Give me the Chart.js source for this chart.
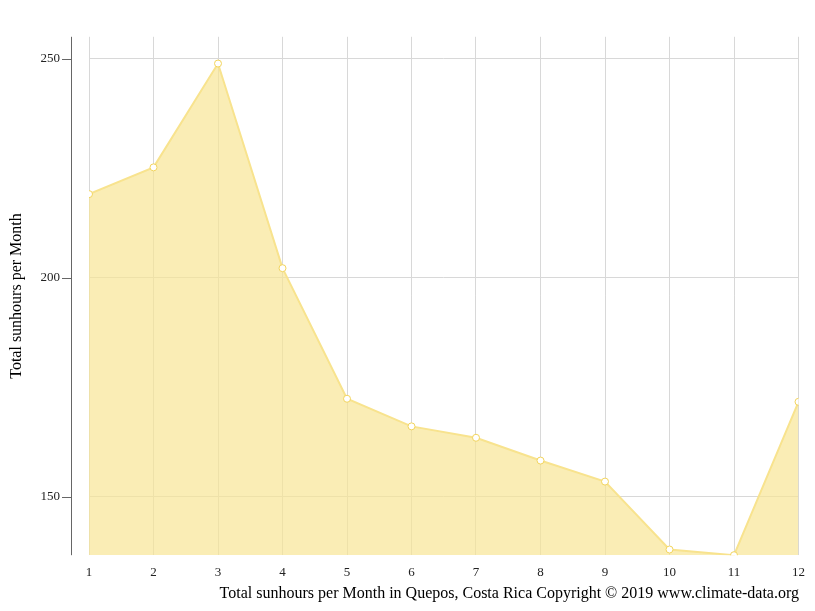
<!DOCTYPE html>
<html lang="en">
<head>
<meta charset="UTF-8">
<script src="https://cdn.jsdelivr.net/npm/chart.js"></script>
<style>
  body { margin: 0; background: #fff; }
  #wrap { width: 815px; height: 611px; }
</style>
</head>
<body>
<div id="wrap"><canvas id="sun"></canvas></div>
<script>
const months = [1, 2, 3, 4, 5, 6, 7, 8, 9, 10, 11, 12];
const sunHours = [219.1, 225.2, 248.9, 202.2, 172.4, 166.1, 163.5, 158.3, 153.5, 138, 136.7, 171.7];
const yTicks = [150, 200, 250];

// offset y axis line and rotated y title, drawn left of the plot like the original
const axisLine = {
  id: 'axisLine',
  afterDraw(chart) {
    const { ctx, chartArea, scales } = chart;
    const x = chartArea.left - 18;
    ctx.save();
    ctx.strokeStyle = '#666';
    ctx.lineWidth = 1;
    ctx.beginPath();
    ctx.moveTo(x + 0.5, chartArea.top);
    ctx.lineTo(x + 0.5, chartArea.bottom);
    yTicks.forEach(v => {
      const y = Math.round(scales.y.getPixelForValue(v)) + 0.5;
      ctx.moveTo(x - 9, y);
      ctx.lineTo(x, y);
    });
    ctx.stroke();
    ctx.translate(17, (chartArea.top + chartArea.bottom) / 2);
    ctx.rotate(-Math.PI / 2);
    ctx.fillStyle = '#000';
    ctx.font = '16px "Liberation Serif"';
    ctx.textAlign = 'center';
    ctx.textBaseline = 'middle';
    ctx.fillText('Total sunhours per Month', 0, 0);
    ctx.restore();
  }
};

new Chart(document.getElementById('sun'), {
  type: 'line',
  data: {
    datasets: [{
      data: months.map((m, i) => ({ x: m, y: sunHours[i] })),
      borderColor: '#f8e38e',
      backgroundColor: 'rgba(248, 230, 150, 0.7)',
      borderWidth: 2,
      fill: 'start',
      tension: 0,
      pointRadius: 3.5,
      pointBackgroundColor: '#fff',
      pointBorderColor: '#f2d45c',
      pointBorderWidth: 1
    }]
  },
  options: {
    responsive: true,
    maintainAspectRatio: false,
    animation: false,
    layout: { padding: { top: -18, right: 16, left: 0, bottom: 8 } },
    plugins: {
      legend: { display: false },
      tooltip: { enabled: false },
      title: {
        display: true,
        position: 'bottom',
        align: 'end',
        text: 'Total sunhours per Month in Quepos, Costa Rica Copyright © 2019 www.climate-data.org',
        color: '#000',
        font: { family: 'Liberation Serif', size: 16, weight: 'normal' },
        padding: { top: 4, bottom: 0 }
      }
    },
    scales: {
      x: {
        type: 'linear',
        min: 1,
        max: 12,
        afterFit: s => { s.height -= 11; },
        grid: { color: '#d8d8d8', drawTicks: false },
        border: { display: false },
        ticks: {
          stepSize: 1,
          padding: 10,
          color: '#222',
          font: { family: 'Liberation Serif', size: 13 }
        }
      },
      y: {
        min: 136.7,
        max: 255,
        afterBuildTicks: s => { s.ticks = yTicks.map(v => ({ value: v })); },
        afterFit: s => { s.width = 89; },
        grid: { color: '#d8d8d8', drawTicks: false },
        border: { display: false },
        ticks: {
          padding: 29,
          color: '#222',
          font: { family: 'Liberation Serif', size: 13 }
        }
      }
    }
  },
  plugins: [axisLine]
});
</script>
</body>
</html>
